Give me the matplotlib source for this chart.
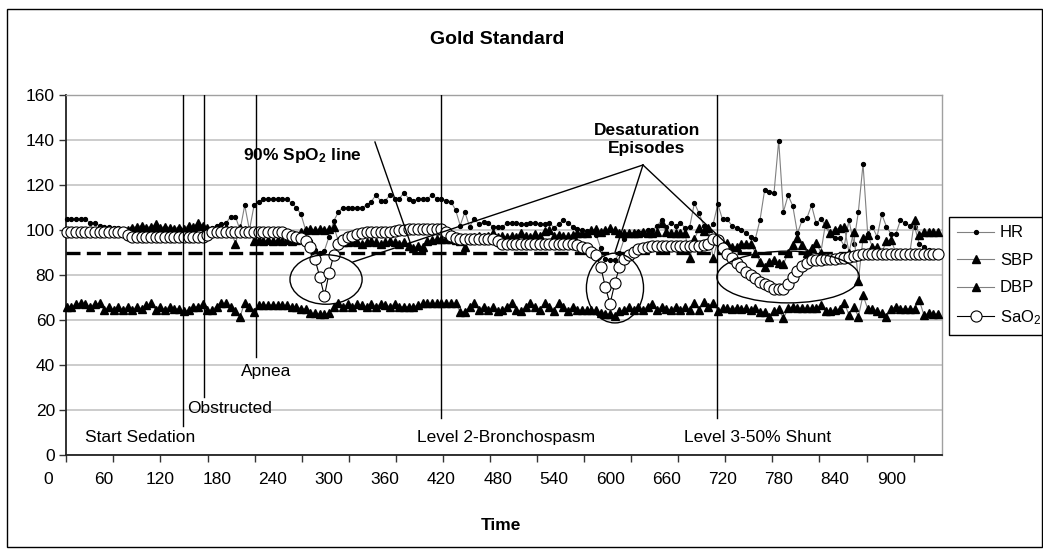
import numpy as np
import matplotlib.pyplot as plt
import matplotlib.transforms as mtransforms
from matplotlib.patches import Ellipse, Rectangle

plt.rcParams['font.family'] = ['Liberation Sans', 'DejaVu Sans']
plt.rcParams['mathtext.default'] = 'regular'

# time in seconds, one sample every 5 s
time = np.arange(20, 951, 5)

hr = [105, 105, 105, 105, 105, 103, 103, 102, 101.5, 101.5,
      101, 101, 100.5, 100, 101, 100.5, 100, 101, 100.5, 100,
      100.5, 101, 100, 100.5, 101, 100, 100.5, 100, 101, 100.5,
      101, 101, 102, 102.6, 103, 106, 106, 100, 111, 100,
      111, 112.6, 113.6, 114, 114, 114, 114, 113.6, 112, 110,
      107, 100, 95, 91, 90, 90.8, 97, 104, 108, 110,
      110, 110, 110, 110, 111, 112.6, 115.5, 113, 113, 115.5,
      114, 114, 116.5, 114, 113, 114, 114, 114, 115.5, 114,
      114, 113, 112.6, 109, 102, 108, 101.5, 105, 102.6, 103.5,
      103, 101.5, 101.5, 101.5, 103, 103.3, 103.3, 102.6, 102.6, 103.3,
      103.3, 102.6, 102.6, 103.3, 101, 102.6, 104.4, 103.3, 101.5, 100.5,
      100, 99.6, 99.2, 98, 92, 87, 86.7, 86.5, 89.7, 96,
      98, 98, 99, 99.2, 100, 100, 101.7, 104.5, 101.5, 103.3,
      102, 103, 101, 101.5, 112, 107.4, 102, 100, 102.6, 111.5,
      104.7, 104.7, 102, 101, 100, 98.7, 97, 96, 104.4, 117.8,
      117, 116.6, 139.7, 108, 115.4, 110.7, 98.5, 104.4, 105.2, 111,
      103, 105, 101.8, 97.8, 96.3, 96.3, 93, 104.4, 94, 108,
      129.3, 98.2, 101.5, 97, 107, 101.5, 98.2, 98.2, 104.4, 103,
      102, 101.5, 94, 92.5, 91, 90.5, 90]

sbp = [99, 99.5, 99, 99.5, 99, 99.5, 99, 99.5, 99, 99.5,
       99, 99.5, 99, 100, 101, 101.5, 102, 101, 101.5, 102.5,
       101, 101.5, 101, 100.5, 101, 100.5, 102, 101.5, 103, 102,
       101, 100, 101, 100.5, 101, 100, 94, 101, 100, 99.5,
       95, 95.5, 95, 95.5, 95, 95.5, 95, 95.5, 95, 95.5,
       99, 100, 100.5, 100, 100.5, 100, 100.5, 101.5, 95, 94.5,
       94.5, 95, 94.5, 94, 94.5, 95, 94.5, 94, 94.5, 95,
       94.5, 94, 94.5, 93, 92, 93, 92.5, 95, 95.5, 96,
       96, 96, 96, 95.5, 95, 92.5, 96, 97, 97.3, 97,
       97.3, 98.7, 97, 97.3, 97, 97.3, 97, 98.7, 97.3, 97,
       98.4, 97.3, 99.7, 100, 97.3, 98, 97.5, 97.3, 98, 98.6,
       98.6, 98.6, 100, 100.4, 99, 100, 100.7, 100, 98.6, 98.8,
       98.8, 98.8, 98.5, 99, 98.8, 98.5, 99, 103, 99, 98.5,
       98.5, 98.5, 98.5, 87.5, 96, 100.7, 99.6, 100.7, 87.4, 95.5,
       93.3, 94.4, 92.6, 92.6, 93.8, 94, 94, 90, 86, 83.7,
       86, 86.7, 85.2, 84.7, 90, 93.3, 96.3, 93.3, 90, 92,
       94.4, 90, 103, 98.5, 100, 101, 101.5, 90, 99.3, 77.5,
       96.3, 97.8, 92.6, 92.6, 90, 95, 95.5, 90, 90, 90,
       90, 104.4, 97.8, 99, 99, 99.3, 99.3]

dbp = [66, 66, 67, 67.4, 67, 66, 67, 67.4, 64.4, 66,
       64.5, 66, 64.4, 66, 64.4, 66, 65, 66.5, 67.4, 64.4,
       66, 64.5, 66, 65, 65, 64, 64.4, 66, 66, 67,
       64.4, 64.4, 66, 67.4, 67.4, 66, 64, 61.5, 67.7, 66,
       63.7, 66.7, 66.7, 66.7, 66.7, 66.7, 66.7, 66.5, 66, 66,
       65, 65, 63, 63, 62.5, 62.5, 63, 66, 67.4, 66,
       67, 66, 67, 66.5, 66, 67, 66, 67, 66.5, 66,
       67, 66, 66, 66, 66, 66.5, 67.4, 67.4, 67.4, 67.4,
       67.4, 67.4, 67.4, 67.4, 63.7, 63.7, 66, 67.4, 64.4, 66,
       64.4, 66, 64, 64.4, 66, 67.4, 64.4, 64, 66, 67.4,
       66, 64.4, 67.4, 66, 64, 67.7, 66, 64, 66, 64.4,
       64.4, 64.4, 64.4, 64.4, 63, 62.7, 62.7, 62, 64, 64.4,
       66, 64.4, 66, 64.4, 66, 67, 64.4, 66, 65, 64.4,
       66, 64.4, 66, 64.4, 67.7, 64.4, 68, 66, 67.7, 64,
       65.2, 65.2, 65, 65.5, 65, 65.2, 64.5, 65.2, 63.7, 63.7,
       61.5, 64, 64.7, 60.7, 65.2, 66, 65.2, 65.2, 65.2, 65.2,
       65.2, 66.7, 64, 64, 64.5, 65, 67.7, 62.2, 66, 61.5,
       71, 65, 65, 64, 63, 61.5, 65, 66, 65, 65,
       65, 65, 68.9, 62.2, 63, 62.7, 62.7]

sao2 = [99, 99, 99, 99, 99, 99, 99, 99, 99, 99,
        99, 99, 99, 98, 97, 97, 97, 97, 97, 97,
        97, 97, 97, 97, 97, 97, 97, 97, 97, 97,
        98, 99, 99, 99, 99, 99, 99, 99, 99, 99,
        99, 99, 99, 99, 99, 99, 99, 98.2, 97.3, 96.8,
        96.3, 95, 92.3, 87, 79.3, 70.7, 80.7, 88.9, 94, 95.5,
        96.7, 97.3, 98.2, 98.7, 99, 99, 99, 99, 99, 99.3,
        99.5, 100, 100, 100.5, 100.5, 100.5, 100.5, 100.5, 100.5, 100.5,
        100.3, 99, 97.5, 96.5, 96, 96, 96, 96, 96, 96,
        96, 96, 95, 94, 94, 94, 94, 94, 94, 94,
        94, 94, 94, 94, 94, 94, 94, 94, 94, 93.5,
        92.5, 91.8, 90.4, 88.9, 83.7, 74.5, 67.2, 76.3, 83.5, 87,
        89, 90.4, 91.5, 92, 92.3, 93, 93, 93, 93, 93,
        93, 93, 93, 93, 93, 93, 93.5, 94, 96, 95.5,
        92, 89.5, 87.5, 85.5, 83.5, 81.5, 80, 78.5, 77, 76,
        75, 74, 73.6, 74, 76, 79, 82, 84, 85.5, 86.5,
        86.7, 86.8, 87, 87, 87.3, 87.5, 87.7, 88, 88.3, 88.9,
        89.2, 89.2, 89.2, 89.2, 89.2, 89.2, 89.2, 89.2, 89.2, 89.2,
        89.3, 89.3, 89.3, 89.3, 89.3, 89.3, 89.3]

x_labels = [0, 60, 120, 180, 240, 300, 360, 420, 480, 540, 600, 660, 720, 780, 840, 900]
spo2_threshold = 90

events = ['Start Sedation', 'Obstructed', 'Apnea', 'Level 2-Bronchospasm', 'Level 3-50% Shunt']
event_times = [144, 166, 222, 420, 714]
event_line_bottom = [13, 26, 43.5, 16.5, 16.5]
event_text_x = [39.5, 148.4, 206, 394, 678.6]
event_text_y = [7.6, 20.7, 37.3, 7.6, 7.6]

# circled desaturation episodes: centre time, centre value, width, height
episodes = [(296.8, 78, 77, 22), (605.2, 74.2, 61, 31), (790, 79.1, 152, 23)]

fig = plt.figure(figsize=(10.43, 5.52), dpi=100)
ax = fig.add_axes([66/1043, 1-455/552, (942-66)/1043, 360/552])

ax.plot(time, hr, color='#808080', lw=0.8, marker='o', ms=2.8, mfc='black', mec='black',
        label='HR', zorder=3, clip_on=False)
ax.plot(time, sbp, color='#808080', lw=0.8, marker='^', ms=5.5, mfc='black', mec='black',
        label='SBP', zorder=3, clip_on=False)
ax.plot(time, dbp, color='#808080', lw=0.8, marker='^', ms=5.5, mfc='black', mec='black',
        label='DBP', zorder=3, clip_on=False)
ax.axhline(spo2_threshold, color='black', lw=2.4, dashes=(4.2, 1.9), zorder=3.5)
ax.plot(time, sao2, color='black', lw=0.8, marker='o', ms=8, mfc='white', mec='black', mew=0.8,
        label='SaO$_2$', zorder=4, clip_on=False)

ax.set_xlim(19.2, 954.3)
ax.set_ylim(0, 160)
ax.set_yticks(range(0, 161, 20))
ax.set_xticks(np.arange(19.5, 950, 50.25))
ax.set_xticklabels([])
ax.tick_params(axis='y', direction='out', length=5, width=1, labelsize=12.5, pad=3, color='#333333')
ax.tick_params(axis='x', direction='out', length=5, width=1, color='#333333')
ax.yaxis.grid(True, color='#c4c4c4', lw=1.2)
ax.set_axisbelow(True)
for s in ['left', 'bottom']:
    ax.spines[s].set_color('#222222')
    ax.spines[s].set_linewidth(1.3)
for s in ['right', 'top']:
    ax.spines[s].set_color('#a0a0a0')
    ax.spines[s].set_linewidth(1.0)

trans = mtransforms.blended_transform_factory(ax.transData, ax.transAxes)
for v in x_labels:
    ax.text(v, -0.069, str(v), transform=trans, ha='center', va='center', fontsize=12.5)

for name, t, yb, tx, ty in zip(events, event_times, event_line_bottom, event_text_x, event_text_y):
    ax.plot([t, t], [yb, 160], color='black', lw=1.0, zorder=5)
    ax.text(tx, ty, name, ha='left', va='center', fontsize=12.5, zorder=6)

for cx, cy, w, h in episodes:
    ax.add_patch(Ellipse((cx, cy), w, h, fill=False, edgecolor='black', lw=1.0, zorder=5))

ax.text(272, 133.3, '90% SpO$_2$ line', ha='center', va='center', fontsize=12.5,
        fontweight='bold', zorder=6)
ax.plot([349, 388.6], [139.1, 92], color='black', lw=1.0, zorder=5)

ax.text(639.4, 140.3, 'Desaturation\nEpisodes', ha='center', va='center', fontsize=12.5,
        fontweight='bold', linespacing=1.25, zorder=6)
for ex, ey in [(325.6, 85.8), (605.3, 90.2), (725.9, 93.3)]:
    ax.plot([635.1, ex], [128.9, ey], color='black', lw=1.0, zorder=5)

fig.text(497/1043, 1-40/552, 'Gold Standard', ha='center', va='center', fontsize=14,
         fontweight='bold')
fig.text(501/1043, 1-525/552, 'Time', ha='center', va='center', fontsize=12.5, fontweight='bold')

fig.patches.append(Rectangle((7/1043, 5/552), (1042-7)/1043, (547-9)/552, fill=False,
                             edgecolor='black', lw=1.0, transform=fig.transFigure, figure=fig))

leg = ax.legend(loc='upper left', bbox_to_anchor=(949/1043, 1-217/552),
                bbox_transform=fig.transFigure, borderaxespad=0, fontsize=12,
                handlelength=2.2, handletextpad=0.35, labelspacing=0.75, borderpad=0.5,
                fancybox=False, framealpha=1, edgecolor='black')
leg.get_frame().set_linewidth(1.0)

fig.savefig('out.png', dpi=100)
